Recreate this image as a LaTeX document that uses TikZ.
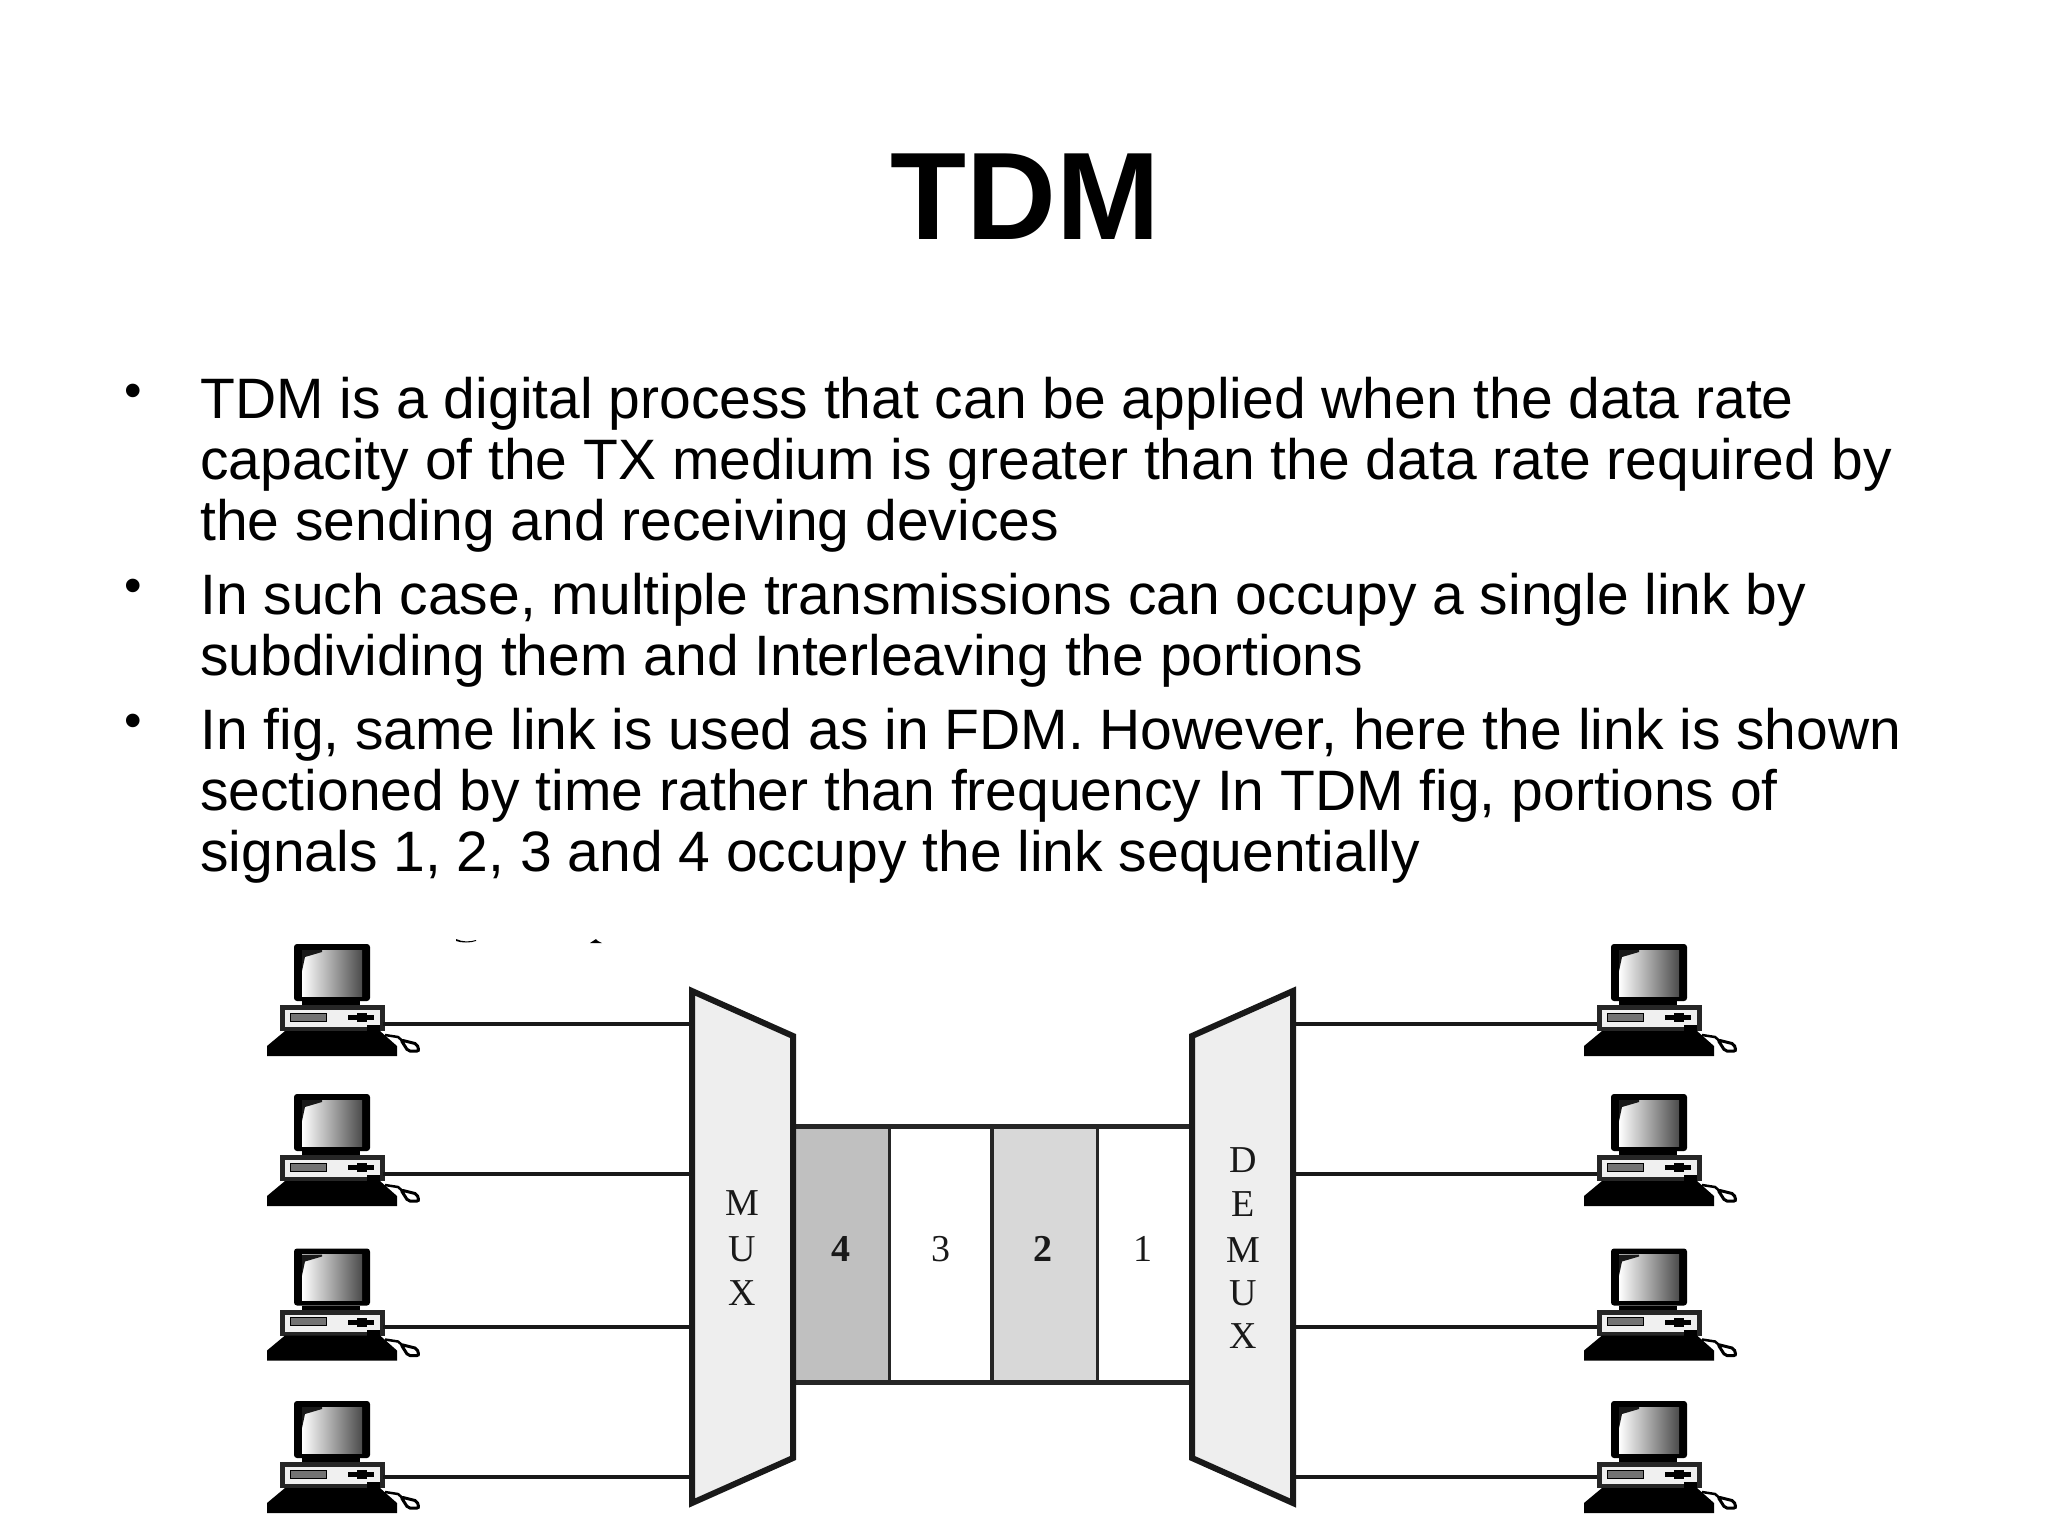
\documentclass[tikz,border=0pt]{standalone}
\usepackage{fontspec}
\setmainfont{Liberation Sans}
\newfontfamily\diagfont{Liberation Serif}
\usetikzlibrary{calc}
\definecolor{muxfill}{HTML}{EEEEEE}
\definecolor{cellfour}{HTML}{C0C0C0}
\definecolor{celltwo}{HTML}{D8D8D8}
\tikzset{
  bodytext/.style={anchor=north west,inner sep=0pt,align=left,font=\fontsize{57}{61.4}\selectfont},
  bulletmark/.style={inner sep=0pt,font=\fontsize{50}{50}\selectfont},
  wire/.style={draw=black!90,line width=4.5pt},
  devbox/.style={draw=black!90,line width=6pt,line join=miter,fill=muxfill},
  linkline/.style={draw=black!85,line width=4.5pt},
  letter/.style={inner sep=0pt,font=\diagfont\fontsize{38}{38}\selectfont,text=black!90},
  computer/.pic={
    \fill[black,rounded corners=3pt] (27,-80) rectangle (103,-23);
    \shade[left color=white,right color=black!70] (35,-74) rectangle (95,-28);
    \fill[black!90] (35,-74) -- (55,-74) -- (55,-72) -- (38,-67) -- (35,-53) -- cycle;
    \fill[black] (35,-23) rectangle (93,-19);
    \fill[black!85] (13,-19) rectangle (118,7);
    \fill[black!6] (18,-14) rectangle (113,3);
    \fill[black!55,draw=black,line width=1pt] (23,-11) rectangle (59,-3);
    \fill[black] (81,-9) rectangle (107,-4);
    \fill[black] (90,-11) rectangle (100,-2);
    \fill[black] (100,1) rectangle (113,7);
    \fill[black] (0,32) -- (0,22) -- (18,7) -- (113,7) -- (130,22) -- (130,32) -- cycle;
    \draw[black,line width=2.5pt] (118,11) -- (131,13) -- (138,19);
    \draw[black,line width=3pt,fill=white,rounded corners=2pt] (134,16) -- (150,20) -- (152,27) -- (141,27) -- cycle;
  }
}
\begin{document}
\begin{tikzpicture}[x=1pt,y=-1pt]
\useasboundingbox (0,0) rectangle (2048,1536);
\node[inner sep=0pt,anchor=base,font=\bfseries\fontsize{124.5}{124.5}\selectfont] (title) at (1025,239) {TDM};
\node[bulletmark] (b1) at (133,396) {•};
\node[bodytext] (t1) at (200,376.5) {TDM is a digital process that can be applied when the data rate\\capacity of the TX medium is greater than the data rate required by\\the sending and receiving devices};
\node[bulletmark] (b2) at (133,591) {•};
\node[bodytext] (t2) at (200,572.5) {In such case, multiple transmissions can occupy a single link by\\subdividing them and Interleaving the portions};
\node[bulletmark] (b3) at (133,726) {•};
\node[bodytext] (t3) at (200,707.5) {In fig, same link is used as in FDM. However, here the link is shown\\sectioned by time rather than frequency In TDM fig, portions of\\signals 1, 2, 3 and 4 occupy the link sequentially};

% scanning specks
\fill[black] (456,939) .. controls (462,942) and (470,942) .. (476,940) -- (476,941) .. controls (470,943) and (462,943) .. (456,941) -- cycle;
\fill[black] (590,943) -- (593,941) -- (596,939) -- (598,941) -- (602,943) -- cycle;

% link cells
\fill[cellfour] (793,1126) rectangle (889,1383);
\fill[celltwo] (992,1126) rectangle (1097,1383);
\coordinate (lt) at (793,1126.5);
\coordinate (rt) at (1192,1126.5);
\coordinate (lb) at (793,1382.5);
\coordinate (rb) at (1192,1382.5);
\draw[linkline] (lt) -- (rt);
\draw[linkline] (lb) -- (rb);
\draw[draw=black!85,line width=3pt] (889,1126) -- (889,1383);
\draw[draw=black!85,line width=4.5pt] (992,1126) -- (992,1383);
\draw[draw=black!85,line width=3pt] (1097,1126) -- (1097,1383);
\node[letter,font=\diagfont\bfseries\fontsize{38}{38}\selectfont] (n4) at (841,1249) {4};
\node[letter] (n3) at (941,1249) {3};
\node[letter,font=\diagfont\bfseries\fontsize{38}{38}\selectfont] (n2) at (1043,1249) {2};
\node[letter] (n1) at (1143,1249) {1};

% mux / demux
\draw[devbox] (692,991) -- (793,1036) -- (793,1458) -- (692,1503) -- cycle;
\draw[devbox] (1293,991) -- (1192,1036) -- (1192,1458) -- (1293,1503) -- cycle;
\node[letter] (m1) at (742,1203) {M};
\node[letter] (m2) at (742,1249) {U};
\node[letter] (m3) at (742,1293) {X};
\node[letter] (d1) at (1243,1160) {D};
\node[letter] (d2) at (1243,1204) {E};
\node[letter] (d3) at (1243,1250) {M};
\node[letter] (d4) at (1243,1293) {U};
\node[letter] (d5) at (1243,1336) {X};

% computers and wires
\foreach \i/\yy/\cy in {1/1024/1024,2/1174/1174,3/1327/1328.5,4/1477/1481}{
  \pic at (267,\cy) {computer};
  \pic at (1584,\cy) {computer};
  \coordinate (cl\i) at (383,\yy);
  \coordinate (ml\i) at (690,\yy);
  \coordinate (dr\i) at (1295,\yy);
  \coordinate (cr\i) at (1597,\yy);
  \draw[wire] (cl\i) -- (ml\i);
  \draw[wire] (dr\i) -- (cr\i);
}
\end{tikzpicture}
\end{document}
